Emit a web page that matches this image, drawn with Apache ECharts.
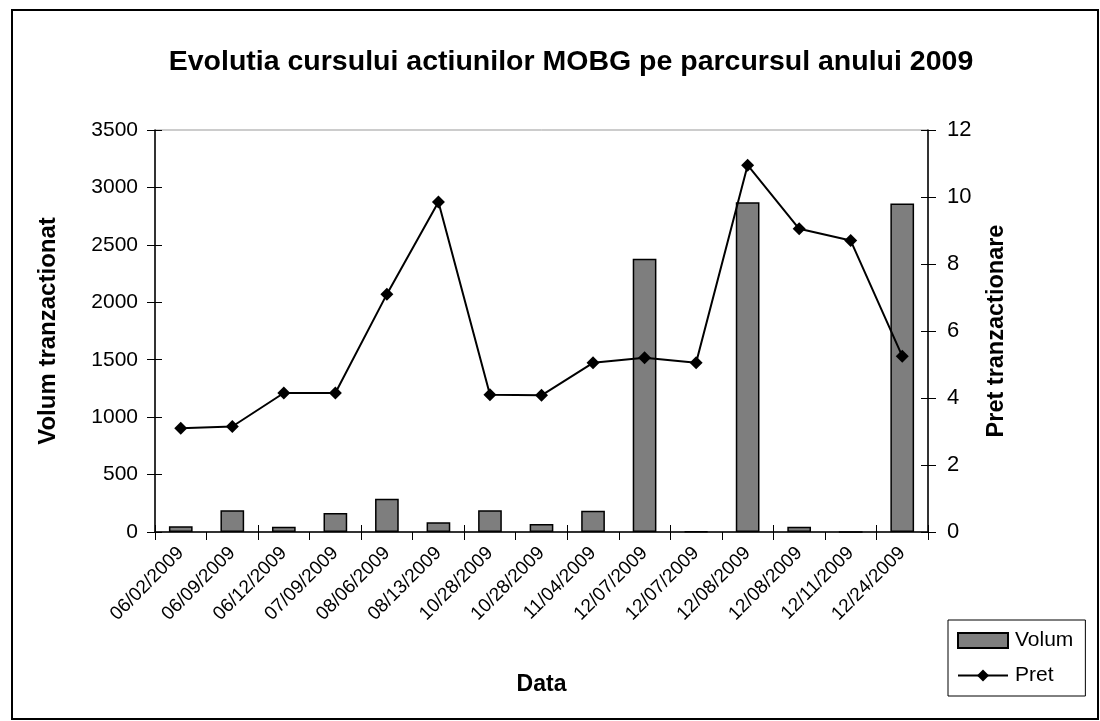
<!DOCTYPE html>
<html>
<head>
<meta charset="utf-8">
<script src="https://cdn.jsdelivr.net/npm/echarts@6/dist/echarts.min.js"></script>
<style>
html,body{margin:0;padding:0;background:#fff;}
#c{width:1100px;height:721px;}
</style>
</head>
<body>
<div id="c"></div>
<script>
const categories = ['06/02/2009','06/09/2009','06/12/2009','07/09/2009','08/06/2009','08/13/2009','10/28/2009','10/28/2009','11/04/2009','12/07/2009','12/07/2009','12/08/2009','12/08/2009','12/11/2009','12/24/2009'];
const volum = [50, 190, 45, 165, 290, 85, 190, 70, 185, 2380, 5, 2870, 45, 0, 2860];
const pret = [3.1, 3.15, 4.15, 4.15, 7.1, 9.85, 4.1, 4.08, 5.05, 5.2, 5.05, 10.95, 9.05, 8.7, 5.25];
const volumTicks = [0, 3500, 500];
const pretTicks = [0, 12, 2];

const font = 'Liberation Sans, Arial, sans-serif';
const chart = echarts.init(document.getElementById('c'), null, {renderer: 'canvas'});
const tickStyle = {color: '#000', width: 1};
const plain = v => String(v);
chart.setOption({
  backgroundColor: '#fff',
  animation: false,
  title: {
    text: 'Evolutia cursului actiunilor MOBG pe parcursul anului 2009',
    left: 566, top: 43, textAlign: 'center',
    textStyle: {fontFamily: font, fontSize: 28.5, fontWeight: 'bold', color: '#000'}
  },
  graphic: [{
    type: 'rect', shape: {x: 12, y: 10, width: 1086, height: 709},
    style: {fill: 'none', stroke: '#000', lineWidth: 2}, silent: true, z: -1
  }],
  legend: {
    orient: 'vertical', left: 948, top: 620, width: 135,
    padding: [10, 12, 10, 9], itemGap: 14,
    borderColor: '#000', borderWidth: 1, backgroundColor: '#fff',
    itemWidth: 50, itemHeight: 15,
    textStyle: {fontFamily: font, fontSize: 21, color: '#000', padding: [0, 0, 0, 2]},
    data: [{name: 'Volum', icon: 'rect'}, {name: 'Pret'}]
  },
  grid: {left: 155, right: 172, top: 130, bottom: 189, show: true, borderColor: '#999', borderWidth: 1},
  xAxis: [{
    type: 'category', data: categories,
    name: 'Data', nameLocation: 'middle', nameGap: 141,
    nameTextStyle: {fontFamily: font, fontSize: 23, fontWeight: 'bold', color: '#000'},
    axisLine: {lineStyle: {color: '#000', width: 1.5}},
    axisTick: {show: true, length: 8, lineStyle: tickStyle},
    axisLabel: {rotate: 45, fontFamily: font, fontSize: 19, color: '#000', margin: 18, interval: 0}
  }, {
    type: 'category', data: categories, position: 'bottom', gridIndex: 0,
    axisLine: {show: false}, axisLabel: {show: false},
    axisTick: {show: true, inside: true, length: 7, lineStyle: tickStyle}
  }],
  yAxis: [{
    type: 'value', min: volumTicks[0], max: volumTicks[1], interval: volumTicks[2],
    name: 'Volum tranzactionat', nameLocation: 'middle', nameGap: 95, nameRotate: 90,
    nameTextStyle: {fontFamily: font, fontSize: 24, fontWeight: 'bold', color: '#000'},
    splitLine: {show: false},
    axisLine: {show: true, lineStyle: {color: '#000', width: 1.5}},
    axisTick: {show: true, length: 8, lineStyle: tickStyle},
    axisLabel: {fontFamily: font, fontSize: 21, color: '#000', margin: 17, formatter: plain}
  }, {
    type: 'value', min: pretTicks[0], max: pretTicks[1], interval: pretTicks[2],
    name: 'Pret tranzactionare', nameLocation: 'middle', nameGap: 57, nameRotate: 90,
    nameTextStyle: {fontFamily: font, fontSize: 23.5, fontWeight: 'bold', color: '#000', verticalAlign: 'top'},
    splitLine: {show: false},
    axisLine: {show: true, lineStyle: {color: '#000', width: 1.5}},
    axisTick: {show: true, length: 8, lineStyle: tickStyle},
    axisLabel: {fontFamily: font, fontSize: 22, color: '#000', margin: 19, formatter: plain}
  }, {
    type: 'value', min: volumTicks[0], max: volumTicks[1], interval: volumTicks[2], position: 'left',
    splitLine: {show: false}, axisLine: {show: false}, axisLabel: {show: false},
    axisTick: {show: true, inside: true, length: 7, lineStyle: tickStyle}
  }, {
    type: 'value', min: pretTicks[0], max: pretTicks[1], interval: pretTicks[2], position: 'right',
    splitLine: {show: false}, axisLine: {show: false}, axisLabel: {show: false},
    axisTick: {show: true, inside: true, length: 7, lineStyle: tickStyle}
  }],
  series: [{
    name: 'Volum', type: 'bar', yAxisIndex: 0, xAxisIndex: 0, data: volum,
    barWidth: '46%',
    itemStyle: {color: '#7e7e7e', borderColor: '#000', borderWidth: 1.5}
  }, {
    name: 'Pret', type: 'line', yAxisIndex: 1, xAxisIndex: 0, data: pret,
    symbol: 'diamond', symbolSize: 13,
    lineStyle: {color: '#000', width: 2},
    itemStyle: {color: '#000'}
  }]
});
</script>
</body>
</html>
